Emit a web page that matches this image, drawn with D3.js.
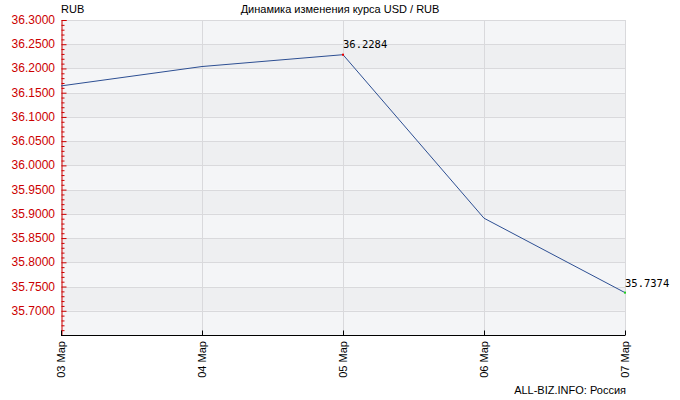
<!DOCTYPE html>
<html><head><meta charset="utf-8">
<script src="https://cdn.jsdelivr.net/npm/d3@7"></script>
<style>body{margin:0;background:#fff}svg{display:block}text{font-family:"Liberation Sans",Arial,sans-serif}</style>
</head><body><svg id="c" width="680" height="400"></svg>
<script>
const dates = ["03 Мар","04 Мар","05 Мар","06 Мар","07 Мар"];
const rates = [36.164, 36.204, 36.2284, 35.891, 35.7374];
const yTicks = [35.70,35.75,35.80,35.85,35.90,35.95,36.00,36.05,36.10,36.15,36.20,36.25,36.30];
const title = "Динамика изменения курса USD / RUB";
const unit = "RUB";
const source = "ALL-BIZ.INFO: Россия";

const svg = d3.select("#c");
const L=61, R=625, T=20, B=335;
const x = d3.scalePoint().domain(dates).range([L,R]);
const y = d3.scaleLinear().domain([35.65,36.30]).range([B,T]);

// bands
const bandEdges = [35.65].concat(yTicks);
const bands = svg.append("g");
for(let i=0;i<bandEdges.length-1;i++){
  const lo=bandEdges[i], hi=bandEdges[i+1];
  const idxFromTop = yTicks.length-1-i;
  bands.append("rect").attr("x",L).attr("width",R-L)
    .attr("y",y(hi)).attr("height",y(lo)-y(hi))
    .attr("fill", (idxFromTop%2===0)?"#f4f5f7":"#eeeff1");
}
// grid
svg.append("g").selectAll("line.h").data(yTicks).join("line")
  .attr("x1",L).attr("x2",R).attr("y1",d=>Math.round(y(d))+0.5).attr("y2",d=>Math.round(y(d))+0.5)
  .attr("stroke","#d9d9dc").attr("stroke-width",1);
svg.append("g").selectAll("line.v").data(dates.slice(1)).join("line")
  .attr("x1",d=>Math.round(x(d))+0.5).attr("x2",d=>Math.round(x(d))+0.5).attr("y1",T).attr("y2",B)
  .attr("stroke","#d9d9dc").attr("stroke-width",1);

// y axis (red) with minor ticks
const yAxis = d3.axisRight(y).tickValues(yTicks).tickSize(5).tickFormat("");
const gy = svg.append("g").attr("transform",`translate(${L+0.5},0)`).call(yAxis);
const minor = d3.range(0,66).map(i=>+(35.65+i*0.01).toFixed(2)).filter(v=>!yTicks.some(t=>Math.abs(t-v)<1e-6));
const gm = svg.append("g").attr("transform",`translate(${L+0.5},0)`).call(d3.axisRight(y).tickValues(minor).tickSize(3).tickFormat(""));
[gy,gm].forEach(g=>{g.selectAll("path").attr("stroke","#cc0000");g.selectAll("line").attr("stroke","#cc0000");});
gm.select("path").remove();
svg.append("g").selectAll("text").data(yTicks).join("text")
  .attr("x",55).attr("y",d=>y(d)+4).attr("text-anchor","end")
  .attr("font-size",12).attr("fill","#cc0000").text(d=>d.toFixed(4));

// x axis
const xAxis = d3.axisTop(x).tickSize(5).tickFormat("");
const gx = svg.append("g").attr("transform",`translate(0,${B+0.5})`).call(xAxis);
gx.select("path").attr("stroke","#000").attr("d",`M${L},0H${R}`);
gx.selectAll("line").attr("stroke","#000");
svg.append("g").selectAll("text").data(dates).join("text")
  .attr("transform",d=>`translate(${x(d)+4},341) rotate(-90)`)
  .attr("text-anchor","end").attr("font-size",11).attr("fill","#000").text(d=>d);

// line
const pts = dates.map((d,i)=>[x(d),y(rates[i])]);
svg.append("path").attr("d",d3.line()(pts)).attr("fill","none")
  .attr("stroke","#2d4f93").attr("stroke-width",1);
const maxI = d3.maxIndex(rates), minI = d3.minIndex(rates);
svg.append("rect").attr("x",pts[maxI][0]-1).attr("y",pts[maxI][1]-1).attr("width",2).attr("height",2).attr("fill","#ee0000");
svg.append("rect").attr("x",pts[minI][0]-1).attr("y",pts[minI][1]-1).attr("width",2).attr("height",2).attr("fill","#22cc22");
svg.append("text").attr("x",pts[maxI][0]).attr("y",pts[maxI][1]-7).attr("font-size",10.5).style("font-family","'DejaVu Sans Mono',monospace").attr("fill","#000").text(rates[maxI].toFixed(4));
svg.append("text").attr("x",pts[minI][0]).attr("y",pts[minI][1]-6).attr("font-size",10.5).style("font-family","'DejaVu Sans Mono',monospace").attr("fill","#000").text(rates[minI].toFixed(4));

// titles
svg.append("text").attr("x",340).attr("y",13).attr("text-anchor","middle").attr("font-size",11).text(title);
svg.append("text").attr("x",61).attr("y",13).attr("font-size",11).text(unit);
svg.append("text").attr("x",626).attr("y",394).attr("text-anchor","end").attr("font-size",11).text(source);
</script></body></html>
